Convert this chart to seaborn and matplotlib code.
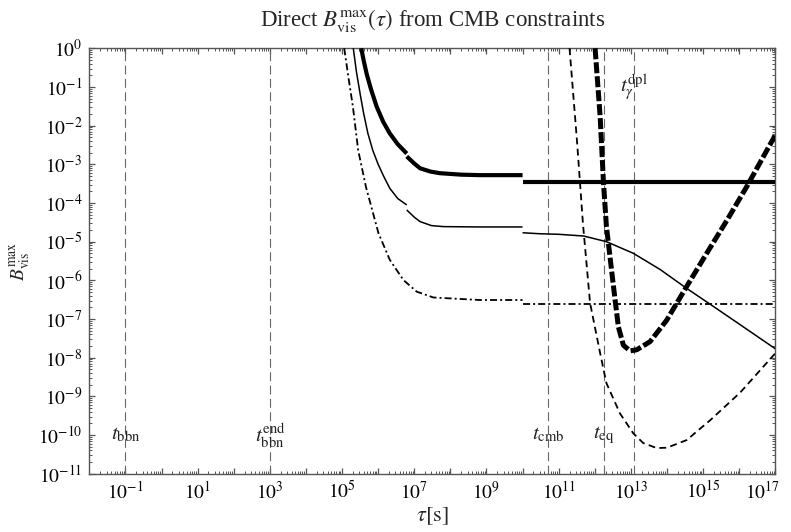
import numpy as np
import pandas as pd
import matplotlib
matplotlib.use("Agg")
import matplotlib.pyplot as plt
from matplotlib.ticker import LogLocator, FixedLocator, FuncFormatter, NullFormatter
from matplotlib.transforms import ScaledTranslation
import seaborn as sns

# ---- characteristic times (s) and their labels ----
t_marks = [1e-1, 1e3, 5.2e10, 1.8e12, 1.2e13]
t_names = [r"$t_{\rm bbn}$", r"$t^{\rm end}_{\rm bbn}$", r"$t_{\rm cmb}$",
           r"$t_{\rm eq}$", r"$t^{\rm dpl}_{\gamma}$"]
t_label_y = [1e-10, 1e-10, 1e-10, 1e-10, 1e-1]

# ---- thick solid: early branch (before and after the kink) and late constant ----
thick_a_tau = [3.4e5, 4.0e5, 4.8e5, 6.3e5, 9.1e5, 1.38e6, 2.1e6, 3.5e6, 6.2e6]
thick_a_B = [1.0, 4.7e-1, 2.2e-1, 8.9e-2, 3.1e-2, 1.26e-2, 6.3e-3, 3.3e-3, 1.9e-3]
thick_b_tau = [6.2e6, 1.0e7, 1.45e7, 2.8e7, 5.1e7, 2.0e8, 6.6e8, 1.0e10]
thick_b_B = [1.6e-3, 1.05e-3, 7.9e-4, 6.5e-4, 5.9e-4, 5.4e-4, 5.25e-4, 5.25e-4]
thick_c_tau = [1.0e10, 1.0e17]
thick_c_B = [3.4e-4, 3.4e-4]

# ---- thin solid ----
thin_a_tau = [2.05e5, 2.5e5, 3.2e5, 4.0e5, 5.2e5, 7.1e5, 1.0e6, 1.41e6,
              2.1e6, 3.5e6, 6.2e6]
thin_a_B = [1.0, 2.5e-1, 6.3e-2, 2.0e-2, 6.3e-3, 2.3e-3, 1.0e-3, 5.0e-4,
            2.4e-4, 1.3e-4, 8.9e-5]
thin_b_tau = [6.2e6, 1.0e7, 1.45e7, 3.0e7, 6.5e7, 6.6e8, 1.0e10]
thin_b_B = [6.6e-5, 4.3e-5, 3.3e-5, 2.6e-5, 2.45e-5, 2.4e-5, 2.4e-5]
thin_c_tau = [1.0e10, 3.1e10, 1.0e11, 4.9e11, 2.1e12, 1.17e13, 6.5e13,
              3.5e14, 1.95e15, 1.07e16, 1.0e17]
thin_c_B = [1.7e-5, 1.6e-5, 1.55e-5, 1.4e-5, 1.0e-5, 5.0e-6, 1.9e-6,
            6.2e-7, 2.1e-7, 7.1e-8, 1.7e-8]

# ---- dash-dot ----
dd_a_tau = [1.15e5, 1.5e5, 2.0e5, 2.8e5, 4.6e5, 1.02e6, 2.1e6, 5.0e6, 1.17e7,
            3.4e7, 6.6e8, 1.0e10]
dd_a_B = [1.0, 1.8e-1, 3.1e-2, 2.3e-3, 2.6e-4, 1.66e-5, 3.4e-6, 1.02e-6, 5.1e-7,
          3.6e-7, 3.1e-7, 3.1e-7]
dd_b_tau = [1.0e10, 1.0e17]
dd_b_B = [2.5e-7, 2.5e-7]

# ---- thin dashed ----
td_tau = [2.0e11, 3.2e11, 4.7e11, 7.4e11, 1.41e12, 2.1e12, 5.0e12, 1.17e13,
          2.2e13, 5.2e13, 1.0e14, 3.5e14, 1.6e15, 1.07e16, 1.0e17]
td_B = [1.0, 4.3e-3, 2.95e-5, 2.6e-7, 1.3e-8, 2.2e-9, 3.6e-10, 1.1e-10,
        6.2e-11, 4.6e-11, 4.7e-11, 7.4e-11, 2.45e-10, 1.26e-9, 1.3e-8]

# ---- thick dashed ----
tk_tau = [1.02e12, 1.41e12, 1.74e12, 2.1e12, 3.3e12, 4.5e12, 6.2e12, 9.5e12,
          1.45e13, 3.4e13, 9.8e13, 3.5e14, 1.26e15, 4.6e15, 1.6e16, 1.0e17]
tk_B = [1.0, 1.7e-2, 3.4e-4, 2.5e-5, 6.9e-7, 6.3e-8, 2.1e-8, 1.5e-8,
        1.6e-8, 2.6e-8, 9.3e-8, 6.9e-7, 5.0e-6, 3.6e-5, 2.6e-4, 5.7e-3]

# decade ticks on the time axis (every decade marked, odd ones labelled)
x_decades = list(range(-1, 18))

sns.set_style("ticks")
plt.rcParams["font.family"] = ["Liberation Serif", "DejaVu Serif"]
plt.rcParams["mathtext.fontset"] = "stix"

fig = plt.figure(figsize=(7.91, 5.32), dpi=100)
ax = fig.add_axes([89.3 / 791, 1 - 473.7 / 532, (775.3 - 89.3) / 791,
                   (473.7 - 48.3) / 532])

grey = "#555555"

# vertical reference times
for t, name, ly in zip(t_marks, t_names, t_label_y):
    ax.axvline(t, color="#666666", lw=0.8, ls=(0, (8, 4)), zorder=1)
    ax.text(t, ly, name, ha="center", va="center", fontsize=15, color="#222222")


def draw(tau, B, lw, style):
    df = pd.DataFrame({"tau": tau, "B": B})
    sns.lineplot(data=df, x="tau", y="B", ax=ax, color="black", lw=lw,
                 sort=False, estimator=None, legend=False)
    line = ax.lines[-1]
    if style == "dash":
        line.set_dashes((3.8, 2.4))
    elif style == "thickdash":
        line.set_dashes((2.2, 0.6))
    elif style == "dashdot":
        line.set_dashes((3.9, 1.7, 1.1, 1.7))
    line.set_solid_capstyle("butt")
    line.set_dash_capstyle("butt")
    line.set_solid_joinstyle("round")
    line.set_zorder(3)


draw(thick_a_tau, thick_a_B, 3.0, "solid")
draw(thick_b_tau, thick_b_B, 3.0, "solid")
draw(thick_c_tau, thick_c_B, 3.0, "solid")
draw(thin_a_tau, thin_a_B, 1.1, "solid")
draw(thin_b_tau, thin_b_B, 1.1, "solid")
draw(thin_c_tau, thin_c_B, 1.1, "solid")
draw(dd_a_tau, dd_a_B, 1.3, "dashdot")
draw(dd_b_tau, dd_b_B, 1.3, "dashdot")
draw(td_tau, td_B, 1.3, "dash")
draw(tk_tau, tk_B, 3.6, "thickdash")

ax.set_xscale("log")
ax.set_yscale("log")
ax.set_xlim(1e-2, 1e17)
ax.set_ylim(1e-11, 1e0)


def xfmt(v, pos):
    n = int(round(np.log10(v)))
    return rf"$10^{{{n}}}$" if n % 2 != 0 else ""


def yfmt(v, pos):
    n = int(round(np.log10(v)))
    return rf"$10^{{{n}}}$"


ax.xaxis.set_major_locator(FixedLocator([10.0 ** n for n in x_decades]))
ax.xaxis.set_minor_locator(LogLocator(base=10, subs=np.arange(2, 10), numticks=400))
ax.xaxis.set_major_formatter(FuncFormatter(xfmt))
ax.xaxis.set_minor_formatter(NullFormatter())
ax.yaxis.set_major_locator(LogLocator(base=10, numticks=40))
ax.yaxis.set_minor_locator(LogLocator(base=10, subs=np.arange(2, 10), numticks=400))
ax.yaxis.set_major_formatter(FuncFormatter(yfmt))
ax.yaxis.set_minor_formatter(NullFormatter())

ax.tick_params(which="both", direction="in", top=True, right=True,
               color=grey, labelsize=14, labelcolor="black")
ax.tick_params(which="major", length=4.5, width=0.9, pad=5)
ax.tick_params(which="minor", length=2.2, width=0.7)
for s in ax.spines.values():
    s.set_color(grey)
    s.set_linewidth(1.0)

ax.set_xlabel(r"$\tau[{\rm s}]$", fontsize=16, labelpad=2)
ax.set_ylabel(r"$B^{\rm max}_{\rm vis}$", fontsize=14)
ax.yaxis.set_label_coords(-0.082, 0.5)
ax.set_title(r"Direct $B^{\rm max}_{\rm vis}(\tau)$ from CMB constraints",
             fontsize=16.5, pad=16)

fig.canvas.draw()
labels = ax.get_xticklabels()
for lab in labels:
    if lab.get_text() == "":
        lab.set_visible(False)
# keep the rightmost label inside the figure
shown = [lab for lab in labels if lab.get_text() != ""]
last = max(shown, key=lambda l: l.get_position()[0])
last.set_horizontalalignment("right")
last.set_transform(last.get_transform() + ScaledTranslation(4 / 100, 0, fig.dpi_scale_trans))

fig.savefig("out.png", dpi=100)
